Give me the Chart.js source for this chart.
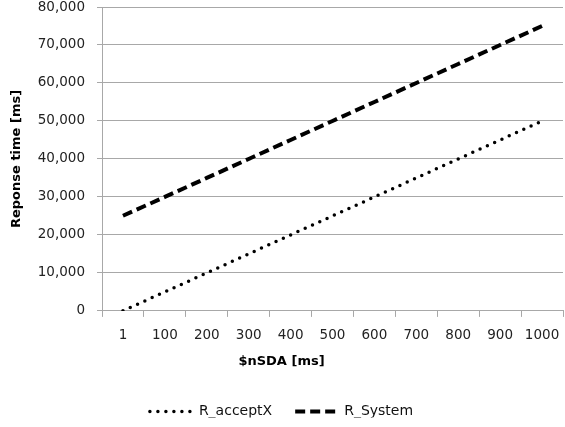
<!DOCTYPE html>
<html lang="en">
<head>
    <meta charset="UTF-8">
    <title>Reponse time vs $nSDA</title>
    <script src="https://cdn.jsdelivr.net/npm/chart.js"></script>
    <style>
        html, body { margin: 0; padding: 0; background: #fff; }
        #wrap { width: 565px; height: 427px; }
    </style>
</head>
<body>
    <div id="wrap"><canvas id="chart"></canvas></div>

    <script>
        // values
        const categories = ['1', '100', '200', '300', '400', '500', '600', '700', '800', '900', '1000'];
        const acceptX = [50, 5000, 10000, 15000, 20000, 25000, 30000, 35000, 40000, 45000, 50000];
        const system = [25050, 30000, 35000, 40000, 45000, 50000, 55000, 60000, 65000, 70000, 75000];
        const seriesNames = ['R_acceptX', 'R_System'];

        const gridGray = '#a8a8a8';
        const fontFamily = '"DejaVu Sans", Verdana, sans-serif';

        new Chart(document.getElementById('chart').getContext('2d'), {
            type: 'line',
            data: {
                labels: categories,
                datasets: [
                    {
                        label: seriesNames[0],
                        data: acceptX,
                        borderColor: '#000',
                        backgroundColor: '#000',
                        borderWidth: 3.5,
                        borderDash: [0, 8],
                        borderCapStyle: 'round',
                        pointRadius: 0,
                        tension: 0
                    },
                    {
                        label: seriesNames[1],
                        data: system,
                        borderColor: '#000',
                        backgroundColor: '#000',
                        borderWidth: 4,
                        borderDash: [10, 5],
                        borderCapStyle: 'butt',
                        pointRadius: 0,
                        tension: 0
                    }
                ]
            },
            options: {
                responsive: true,
                maintainAspectRatio: false,
                animation: false,
                layout: { padding: { top: 7, right: 2, bottom: 9.5, left: 0 } },
                plugins: {
                    tooltip: { enabled: false },
                    // x axis title centred on the whole chart, like the original
                    title: {
                        display: true,
                        position: 'bottom',
                        weight: 500,
                        text: '$nSDA [ms]',
                        color: '#000',
                        padding: { top: 7, bottom: 12 },
                        font: { family: fontFamily, size: 13, weight: 'bold' }
                    },
                    legend: {
                        position: 'bottom',
                        maxHeight: 36,
                        labels: {
                            usePointStyle: true,
                            pointStyle: 'line',
                            pointStyleWidth: 42,
                            boxWidth: 42,
                            boxHeight: 14,
                            padding: 23,
                            color: '#111',
                            font: { family: fontFamily, size: 14 },
                            generateLabels: chart => {
                                const items = Chart.defaults.plugins.legend.labels.generateLabels(chart);
                                items.forEach(item => {
                                    const ds = chart.data.datasets[item.datasetIndex];
                                    item.lineDash = ds.borderDash;
                                    item.lineCap = ds.borderCapStyle;
                                    item.lineWidth = ds.borderWidth;
                                    item.strokeStyle = ds.borderColor;
                                });
                                return items;
                            }
                        }
                    }
                },
                scales: {
                    x: {
                        type: 'category',
                        offset: true,
                        afterFit: s => {
                            s.height = 36;
                            s.paddingLeft = 0;
                            s.paddingRight = 0;
                        },
                        grid: {
                            offset: true,
                            drawOnChartArea: false,
                            drawTicks: true,
                            tickLength: 6,
                            color: gridGray
                        },
                        border: { color: gridGray },
                        ticks: {
                            padding: 10,
                            color: '#222',
                            maxRotation: 0,
                            autoSkip: false,
                            font: { family: fontFamily, size: 13.5 }
                        }
                    },
                    y: {
                        min: 0,
                        max: 80000,
                        afterFit: s => {
                            s.width = 102;
                            s.paddingTop = 0;
                            s.paddingBottom = 0;
                        },
                        grid: {
                            color: gridGray,
                            drawTicks: true,
                            tickLength: 5
                        },
                        border: { color: gridGray },
                        ticks: {
                            stepSize: 10000,
                            padding: 12,
                            color: '#222',
                            font: { family: fontFamily, size: 13.5 },
                            callback: v => v.toLocaleString('en-US')
                        },
                        title: {
                            display: true,
                            text: 'Reponse time [ms]',
                            color: '#000',
                            padding: { top: 9, bottom: 0 },
                            font: { family: fontFamily, size: 13, weight: 'bold' }
                        }
                    }
                }
            }
        });
    </script>
</body>
</html>
